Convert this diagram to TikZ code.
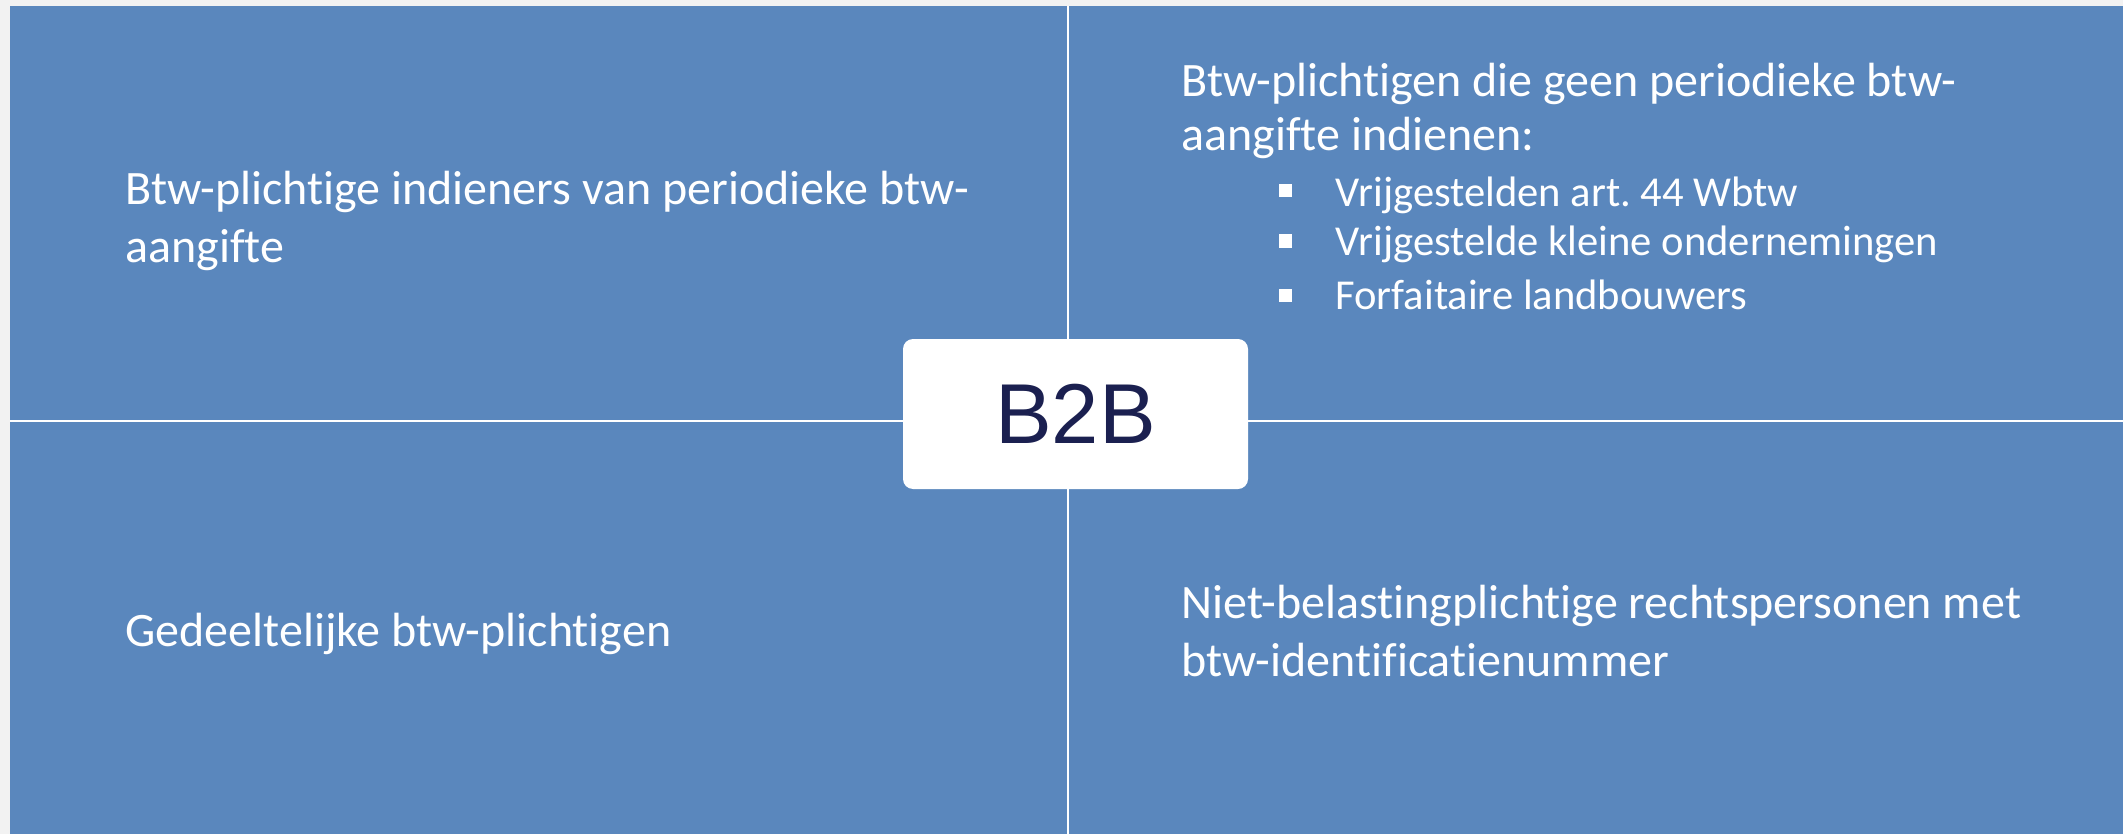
\documentclass[tikz,border=0pt]{standalone}
\usepackage{fontspec}
\setmainfont{Carlito}[Ligatures=NoCommon]
\newfontfamily\boxfont{Liberation Sans}
\definecolor{bgray}{HTML}{F2F2F2}
\definecolor{qblue}{HTML}{5A87BD}
\definecolor{navy}{HTML}{1B2050}
\tikzset{
  qtext/.style={anchor=base west, inner sep=0pt, text=white, font=\fontsize{24}{29}\selectfont},
  btext/.style={anchor=base west, inner sep=0pt, text=white, font=\fontsize{21.3}{25}\selectfont},
  bullet/.style={fill=white, draw=none, minimum size=6.5pt, inner sep=0pt},
  divider/.style={draw=white, line width=1pt},
  centerbox/.style={fill=white, draw=none, rounded corners=5pt, minimum width=172.5pt, minimum height=75pt, text=navy, font=\boxfont\fontsize{42.5}{48}\selectfont, inner sep=0pt}
}
\frenchspacing
\begin{document}
\begin{tikzpicture}[x=0.5pt,y=-0.5pt]
\useasboundingbox (0,0) rectangle (2123,834);
\fill[bgray] (0,0) rectangle (2123,834);
\fill[qblue] (10,6) rectangle (2123,834);
\coordinate (vtop) at (1068,6);
\coordinate (vbot) at (1068,834);
\coordinate (hleft) at (10,421);
\coordinate (hright) at (2123,421);
\draw[divider] (vtop) -- (vbot);
\draw[divider] (hleft) -- (hright);
\node[centerbox] (b2b) at (1075.5,414) {B2B};
% top left
\node[qtext] (tl1) at (125,205) {Btw-plichtige indieners van periodieke btw-};
\node[qtext] (tl2) at (125,263) {aangifte};
% top right
\node[qtext] (tr1) at (1181,97) {Btw-plichtigen die geen periodieke btw-};
\node[qtext] (tr2) at (1181,151) {aangifte indienen:};
\node[bullet] (s1) at (1285,191) {};
\node[bullet] (s2) at (1285,241) {};
\node[bullet] (s3) at (1285,295) {};
\node[btext] (b1) at (1335,206) {Vrijgestelden art. 44 Wbtw};
\node[btext] (b2) at (1335,256) {Vrijgestelde kleine ondernemingen};
\node[btext] (b3) at (1335,309) {Forfaitaire landbouwers};
% bottom left
\node[qtext] (bl1) at (125,646) {Gedeeltelijke btw-plichtigen};
% bottom right
\node[qtext] (br1) at (1181,618) {Niet-belastingplichtige rechtspersonen met};
\node[qtext] (br2) at (1181,676) {btw-identificatienummer};
\end{tikzpicture}
\end{document}
